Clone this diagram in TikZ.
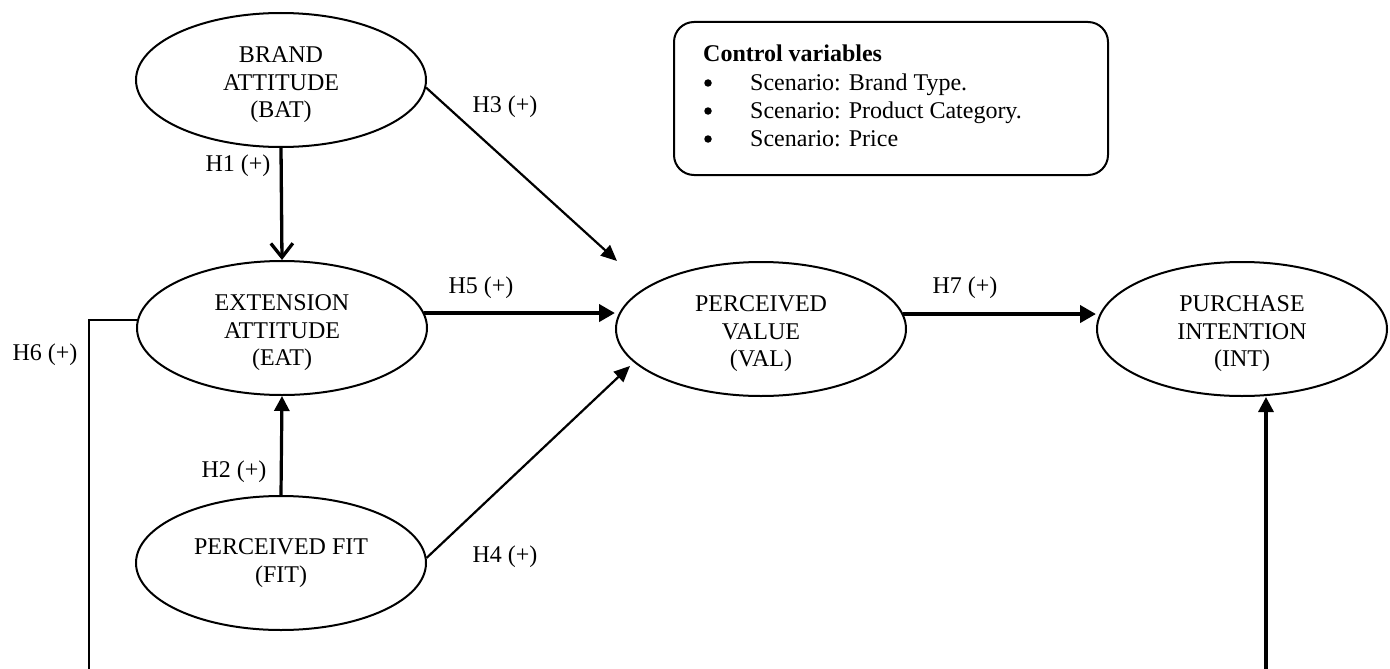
\documentclass[tikz,border=0pt]{standalone}
\usepackage{fontspec}
\setmainfont{Liberation Serif}
\usetikzlibrary{arrows.meta,shapes.geometric,calc}
\newcommand\myup{\rule{0pt}{26pt}}
\begin{document}
\begin{tikzpicture}[x=1pt,y=-1pt,
  every node/.style={font=\fontsize{24}{27.5}\selectfont},
  construct/.style={draw, ellipse, line width=2pt, minimum width=290pt, minimum height=134pt, inner sep=0pt, align=center},
  lab/.style={inner sep=0pt},
  dot/.style={circle, fill, inner sep=0pt, minimum size=7.5pt},
  boldarrow/.style={line width=4pt, -{Triangle[length=16pt,width=17pt]}},
  midarrow/.style={line width=3.2pt, -{Triangle[length=15pt,width=15pt]}},
  thinarrow/.style={line width=2.2pt, -{Triangle[length=16pt,width=14pt]}},
  barbarrow/.style={line width=3.3pt, -{Straight Barb[length=14pt,width=22pt]}},
  plainline/.style={line width=2pt}
]
\useasboundingbox (0,0) rectangle (1390,669);

% constructs
\node[construct] (bat) at (281,80) {\myup BRAND\\ATTITUDE\\(BAT)};
\node[construct] (eat) at (282,328) {\myup EXTENSION\\ATTITUDE\\(EAT)};
\node[construct] (fit) at (281,563) {PERCEIVED FIT\\(FIT)};
\node[construct] (val) at (761,329) {\myup PERCEIVED\\VALUE\\(VAL)};
\node[construct] (int) at (1242,329) {\myup PURCHASE\\INTENTION\\(INT)};

% control variables box
\node[draw, line width=2pt, rounded corners=20pt, minimum width=434pt, minimum height=153pt, inner sep=0pt] (ctrl) at (891,98.5) {};
\node[lab, anchor=base west] (ctitle) at (703,62) {\textbf{Control variables}};
\node[dot] (b1) at (708,83) {};
\node[dot] (b2) at (708,111) {};
\node[dot] (b3) at (708,139) {};
\node[lab, anchor=base west] (c1) at (750,90) {Scenario: Brand Type.};
\node[lab, anchor=base west] (c2) at (750,118) {Scenario: Product Category.};
\node[lab, anchor=base west] (c3) at (750,146) {Scenario: Price};

% free ends
\coordinate (h3end) at (617,261);
\coordinate (h4end) at (630,366);
\coordinate (h6bot) at (89,669);
\coordinate (intbot) at (1266,669);

% connectors
\draw[barbarrow] (bat.south) -- (eat.north);
\draw[midarrow] (fit.north) -- (eat.south);
\draw[thinarrow] (bat.-3) -- (h3end);
\draw[thinarrow] (fit.2) -- (h4end);
\draw[boldarrow] (eat.6.5) -- (eat.6.5 -| val.west);
\draw[boldarrow] (val.6.5) -- (val.6.5 -| int.west);
\draw[plainline] (eat.177) -| (h6bot);
\draw[midarrow] (intbot) -- (intbot |- int.south);

% labels
\node[lab] (l1) at (238,166) {H1 (+)};
\node[lab] (l2) at (234,472) {H2 (+)};
\node[lab] (l3) at (505,107) {H3 (+)};
\node[lab] (l4) at (505,557) {H4 (+)};
\node[lab] (l5) at (481,288) {H5 (+)};
\node[lab] (l7) at (965,288) {H7 (+)};
\node[lab] (l6) at (45,355) {H6 (+)};
\end{tikzpicture}
\end{document}
